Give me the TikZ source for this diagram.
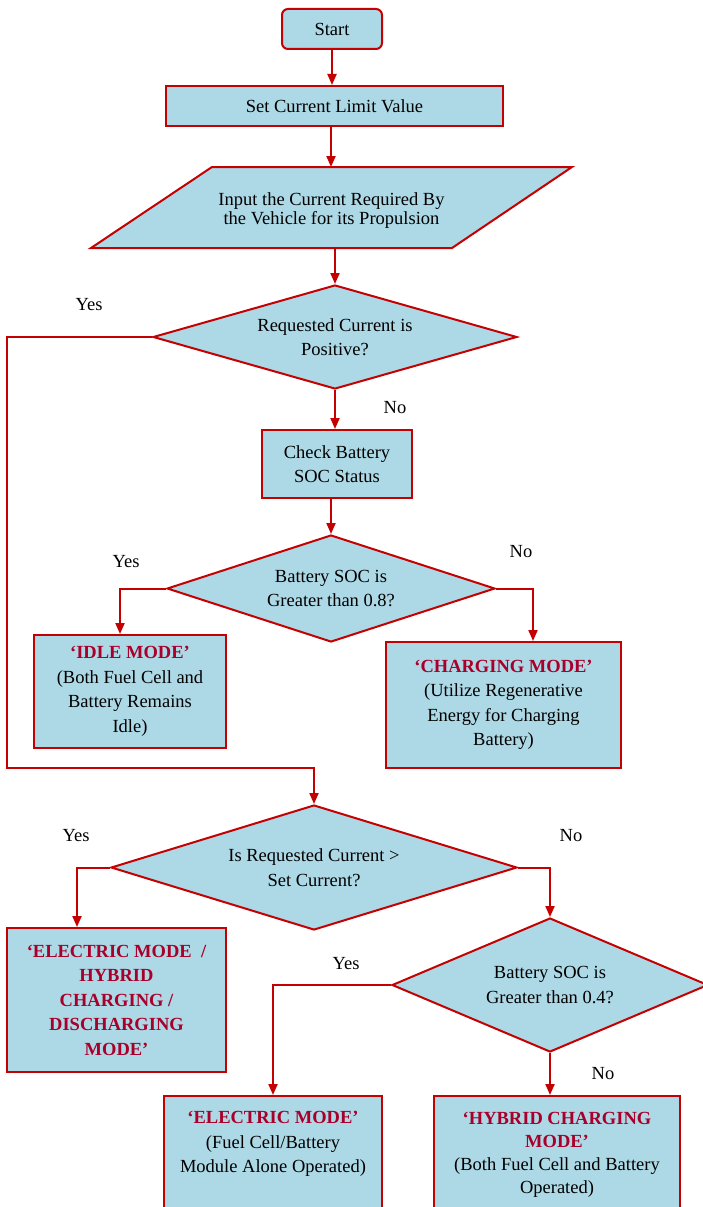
\documentclass[tikz,border=0pt]{standalone}
\usepackage{fontspec}
\setmainfont{Liberation Serif}
\usetikzlibrary{arrows.meta,shapes.geometric}
\definecolor{boxfill}{RGB}{173,216,230}
\definecolor{edgered}{RGB}{196,0,0}
\definecolor{modered}{RGB}{168,0,42}
\begin{document}
\begin{tikzpicture}[x=1pt,y=-1pt,
  txt/.style={font=\fontsize{18.5}{24.5}\selectfont, align=center, inner sep=0pt},
  base/.style={txt, draw=edgered, line width=2pt, fill=boxfill},
  procbox/.style={base, rectangle},
  decbox/.style={base, diamond},
  flow/.style={draw=edgered, line width=2pt, -{Triangle[length=11pt,width=9pt]}},
  lbl/.style={txt}
]
\useasboundingbox (0,0) rectangle (703,1207);
\clip (0,0) rectangle (703,1207);

% Start and limit
\node[procbox, rounded corners=6pt, minimum width=100pt, minimum height=40pt] (start) at (332,29) {Start};
\node[procbox, minimum width=337pt, minimum height=40pt] (setlim) at (334.5,106) {Set Current Limit Value};

% Input parallelogram
\draw[base] (212,167) -- (572,167) -- (452,248) -- (91,248) -- cycle;
\coordinate (inTop) at (331,167);
\coordinate (inBot) at (335,248);
\node[txt, font=\fontsize{18.5}{19}\selectfont] (input) at (331.5,211) {Input the Current Required By\\the Vehicle for its Propulsion};

% Decision 1
\node[decbox, aspect=3.5, minimum width=364pt, minimum height=104pt] (d1) at (335,337) {Requested Current is\\Positive?};
\node[procbox, minimum width=150pt, minimum height=68pt] (check) at (337,464) {Check Battery\\SOC Status};

% Decision 2
\node[decbox, aspect=3.07, minimum width=328pt, minimum height=107pt] (d2) at (331,588.5) {Battery SOC is\\Greater than 0.8?};
\node[procbox, minimum width=192pt, minimum height=113pt] (idle) at (130,691.5)
  {{\bfseries\color{modered}‘IDLE MODE’}\\(Both Fuel Cell and\\Battery Remains\\Idle)};
\node[procbox, minimum width=235pt, minimum height=126pt] (charging) at (503.5,705)
  {{\bfseries\color{modered}‘CHARGING MODE’}\\(Utilize Regenerative\\Energy for Charging\\Battery)};

% Decision 3
\node[decbox, aspect=3.25, minimum width=406pt, minimum height=125pt] (d3) at (314,867.5) {Is Requested Current >\\Set Current?};
\node[procbox, minimum width=219pt, minimum height=144pt] (elhyb) at (116.5,1000)
  {\bfseries\color{modered}‘ELECTRIC MODE \ /\\\bfseries\color{modered}HYBRID\\\bfseries\color{modered}CHARGING /\\\bfseries\color{modered}DISCHARGING\\\bfseries\color{modered}MODE’};

% Decision 4
\node[decbox, aspect=2.36, minimum width=316pt, minimum height=134pt] (d4) at (550,985) {Battery SOC is\\Greater than 0.4?};
\node[procbox, minimum width=218pt, minimum height=134pt] (electric) at (273,1163) {};
\node[txt] (electricText) at (273,1144)
  {{\bfseries\color{modered}‘ELECTRIC MODE’}\\(Fuel Cell/Battery\\Module Alone Operated)};
\node[procbox, minimum width=246pt, minimum height=134pt] (hybrid) at (557,1163) {};
\node[txt, font=\fontsize{18.5}{23}\selectfont] (hybridText) at (557,1155)
  {{\bfseries\color{modered}‘HYBRID CHARGING}\\{\bfseries\color{modered}MODE’}\\(Both Fuel Cell and Battery\\Operated)};

% Connectors
\draw[flow] (start.south) -- (start.south |- setlim.north);
\draw[flow] (setlim.south -| inTop) -- (inTop);
\draw[flow] (inBot) -- (d1.north);
\coordinate (loopCorner) at (7,768);
\draw[flow] (d1.west) -| (loopCorner) -| (d3.north);
\draw[flow] (d1.south) -- (d1.south |- check.north);
\draw[flow] (check.south -| d2.north) -- (d2.north);
\draw[flow] (d2.west) -| ([xshift=-10pt]idle.north);
\draw[flow] (d2.east) -| ([xshift=29.5pt]charging.north);
\draw[flow] (d3.west) -| ([xshift=-39.5pt]elhyb.north);
\draw[flow] (d3.east) -| (d4.north);
\draw[flow] (d4.west) -| (electric.north);
\draw[flow] (d4.south) -- (d4.south |- hybrid.north);

% Branch labels
\node[lbl] (y1) at (89,305) {Yes};
\node[lbl] (n1) at (395,408) {No};
\node[lbl] (y2) at (126,562) {Yes};
\node[lbl] (n2) at (521,552) {No};
\node[lbl] (y3) at (76,836) {Yes};
\node[lbl] (n3) at (571,836) {No};
\node[lbl] (y4) at (346,964) {Yes};
\node[lbl] (n4) at (603,1074) {No};
\end{tikzpicture}
\end{document}
